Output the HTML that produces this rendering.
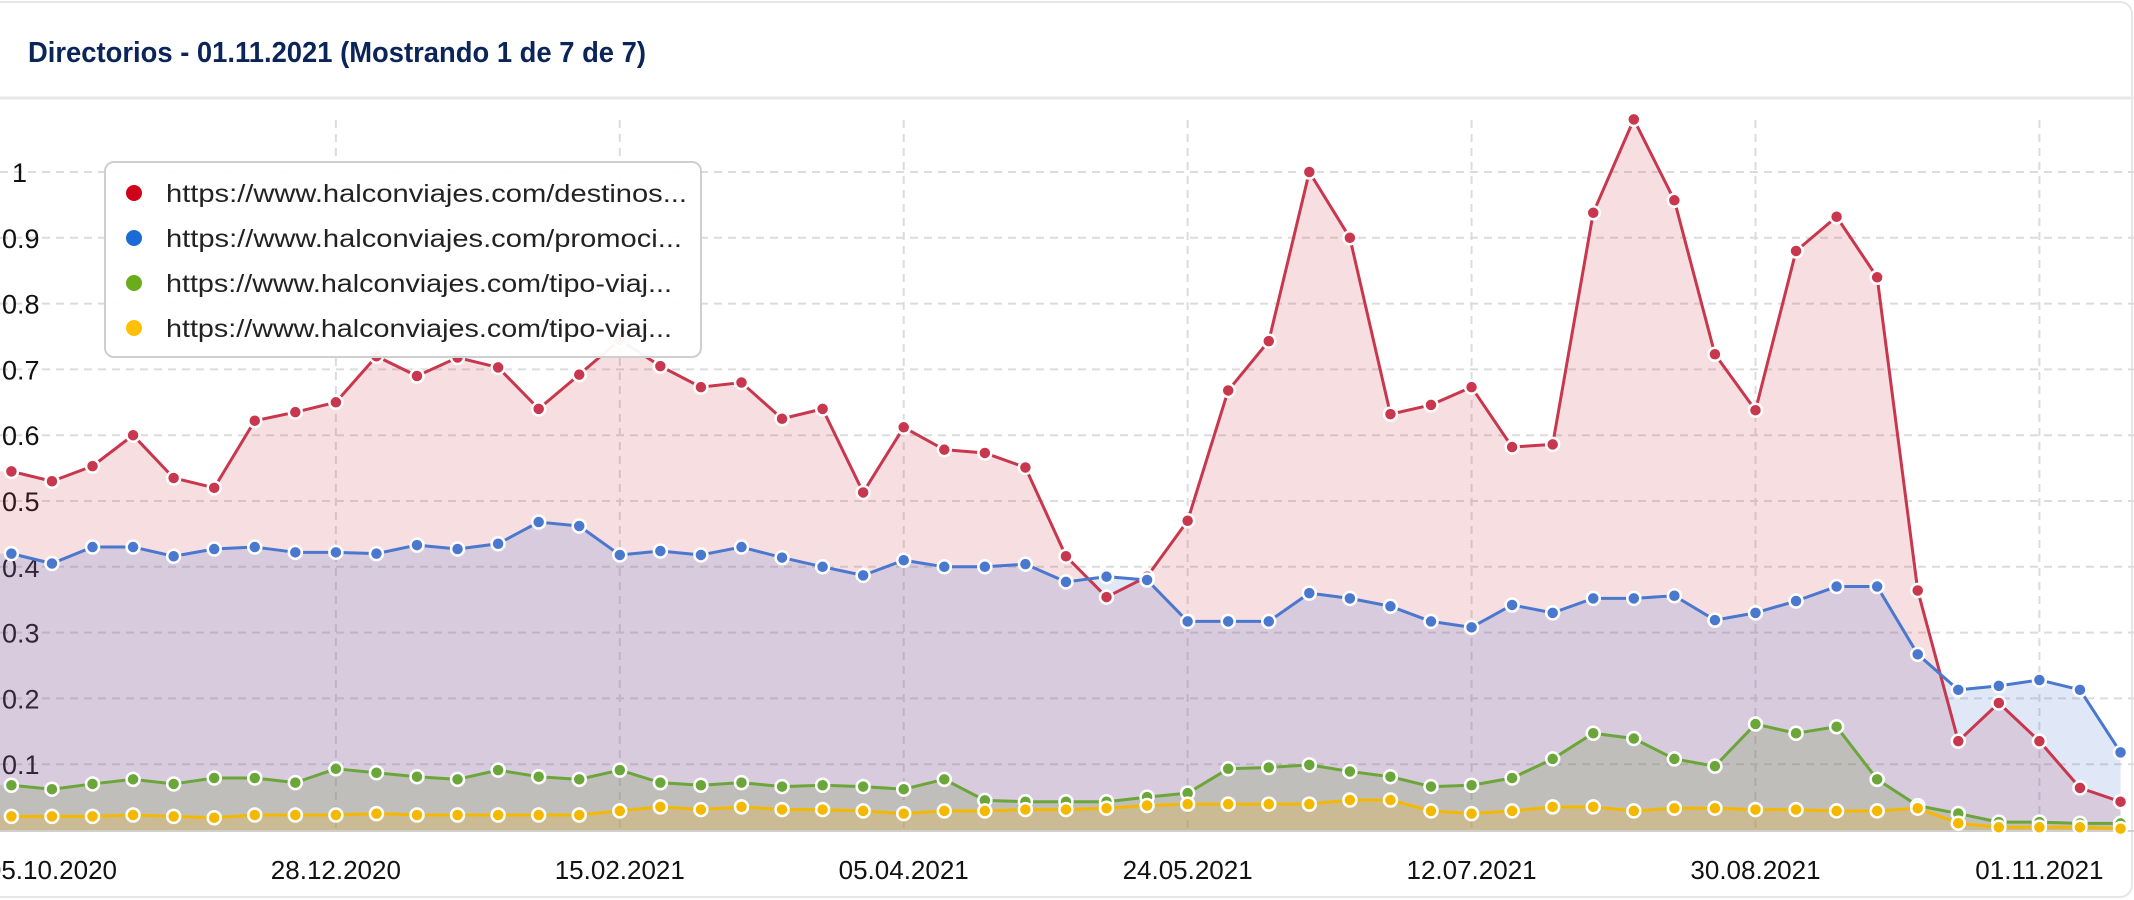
<!DOCTYPE html>
<html><head><meta charset="utf-8">
<style>
html,body{margin:0;padding:0;background:#fff;}
body{width:2134px;height:900px;overflow:hidden;font-family:"Liberation Sans",sans-serif;}
svg{display:block;}
</style></head>
<body>
<svg id="c" width="2134" height="900" xmlns="http://www.w3.org/2000/svg" font-family="Liberation Sans, sans-serif">
<rect x="-10" y="2" width="2142" height="895" rx="12" fill="#fff" stroke="#e6e6e6" stroke-width="2"/>
<text x="28" y="62" font-size="29" font-weight="bold" fill="#0b2559" textLength="618" lengthAdjust="spacingAndGlyphs">Directorios - 01.11.2021 (Mostrando 1 de 7 de 7)</text>
<line x1="0" y1="98" x2="2134" y2="98" stroke="#e8e8e8" stroke-width="3"/>
<g id="grid"></g>
<g id="areas"></g>
<g id="lines"></g>
<g id="pts"></g>
<g id="legend">
<rect x="105" y="162" width="596" height="195" rx="9" fill="#fff" fill-opacity="0.95" stroke="#cfcfcf" stroke-width="2"/>
<circle cx="134" cy="193" r="8" fill="#d0021b"/>
<text x="166" y="202" font-size="25" fill="#222" textLength="521" lengthAdjust="spacingAndGlyphs">https://www.halconviajes.com/destinos...</text>
<circle cx="134" cy="238" r="8" fill="#1a6bd6"/>
<text x="166" y="247" font-size="25" fill="#222" textLength="516" lengthAdjust="spacingAndGlyphs">https://www.halconviajes.com/promoci...</text>
<circle cx="134" cy="283" r="8" fill="#6aad1c"/>
<text x="166" y="292" font-size="25" fill="#222" textLength="506" lengthAdjust="spacingAndGlyphs">https://www.halconviajes.com/tipo-viaj...</text>
<circle cx="134" cy="328" r="8" fill="#ffc107"/>
<text x="166" y="337" font-size="25" fill="#222" textLength="506" lengthAdjust="spacingAndGlyphs">https://www.halconviajes.com/tipo-viaj...</text>
</g>
</svg>
<script>
var NS="http://www.w3.org/2000/svg";
function X(i){return 11.4+40.56*i;}
function Y(v){return 830-v*658;}
function el(t,a,p){var e=document.createElementNS(NS,t);for(var k in a)e.setAttribute(k,a[k]);document.getElementById(p).appendChild(e);return e;}
var red=[.545,.53,.553,.6,.535,.52,.622,.635,.65,.72,.69,.718,.703,.64,.692,.745,.705,.673,.68,.625,.64,.513,.612,.578,.573,.551,.416,.354,.385,.47,.668,.743,1.0,.9,.632,.646,.673,.582,.586,.938,1.08,.957,.723,.638,.88,.932,.84,.364,.135,.193,.135,.064,.043];
var blue=[.42,.405,.43,.43,.416,.427,.43,.422,.422,.42,.433,.427,.435,.468,.462,.418,.424,.418,.43,.414,.4,.387,.41,.4,.4,.404,.377,.385,.38,.317,.317,.317,.36,.352,.34,.317,.308,.342,.33,.352,.352,.356,.319,.33,.348,.37,.37,.267,.213,.219,.228,.213,.118];
var green=[.068,.062,.07,.077,.07,.079,.079,.072,.093,.087,.081,.077,.091,.081,.077,.091,.072,.068,.072,.066,.068,.066,.062,.077,.045,.043,.043,.043,.05,.056,.093,.095,.099,.089,.081,.066,.068,.079,.108,.147,.139,.108,.097,.161,.147,.157,.077,.037,.025,.012,.012,.01,.01];
var ypx=[602,602,602,601,602,603,601,601,601,600,601,601,601,601,601,598,595,597,595,597,597,598,600,598,598,597,597,596,594,593,593,593,593,590,590,598,600,598,595,595,598,596,596,597,597,598,598,596,607,610,610,610,611];
var yellow=ypx.map(function(p){return (612-p)/483;});
for(var v=1;v<=10;v++){var y=Y(v/10);el("line",{x1:0,y1:y,x2:2134,y2:y,stroke:"#dcdcdc","stroke-width":2,"stroke-dasharray":"8,6"},"grid");}
var labs=["05.10.2020","28.12.2020","15.02.2021","05.04.2021","24.05.2021","12.07.2021","30.08.2021","01.11.2021"];
var idx=[1,8,15,22,29,36,43,50];
for(var k=0;k<idx.length;k++){var x=X(idx[k]);
 if(k>0)el("line",{x1:x,y1:120,x2:x,y2:830,stroke:"#dcdcdc","stroke-width":2,"stroke-dasharray":"8,6"},"grid");
 var t=el("text",{x:x,y:879,"font-size":26,"text-anchor":"middle",fill:"#111"},"grid");t.textContent=labs[k];}
var yl=["0.1","0.2","0.3","0.4","0.5","0.6","0.7","0.8","0.9","1"];
for(var v=1;v<=10;v++){var t=el("text",{x:v==10?12:2,y:Y(v/10)+10,"font-size":27,fill:"#111"},"grid");t.textContent=yl[v-1];}
el("line",{x1:0,y1:831,x2:2134,y2:831,stroke:"#cfcfcf","stroke-width":2},"grid");
var series=[[red,"#c8374d","rgba(200,60,80,0.17)"],[blue,"#4a78cf","rgba(70,110,210,0.17)"],[green,"#6aa63a","rgba(120,150,80,0.25)"],[yellow,"#f5b800","rgba(230,180,40,0.25)"]];
series.forEach(function(s){
 var pts="";
 for(var i=0;i<s[0].length;i++){pts+=X(i)+","+Y(s[0][i])+" ";}
 el("polygon",{points:"-5,830 -5,"+Y(s[0][0])+" "+pts+X(s[0].length-1)+",830",fill:s[2]},"areas");
 el("polyline",{points:pts,fill:"none",stroke:s[1],"stroke-width":3,"stroke-linejoin":"round"},"lines");
 for(var i=0;i<s[0].length;i++)el("circle",{cx:X(i),cy:Y(s[0][i]),r:6.5,fill:s[1],stroke:"#fff","stroke-width":2.5},"pts");
});
</script>
</body></html>
